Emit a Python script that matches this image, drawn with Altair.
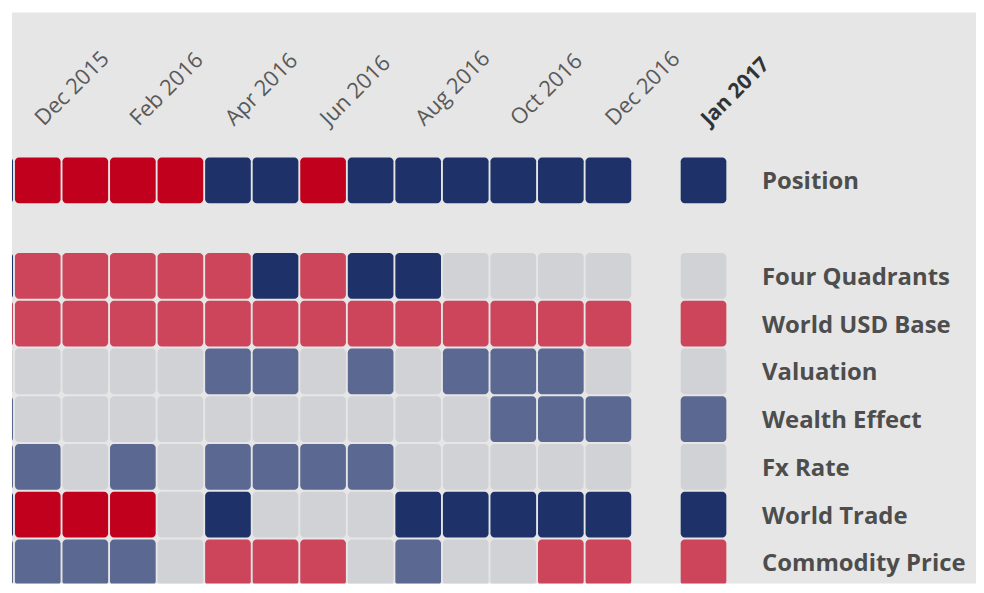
import altair as alt
import pandas as pd

# ---- data ------------------------------------------------------------------
hist_months = ["Oct 2015", "Nov 2015", "Dec 2015", "Jan 2016", "Feb 2016",
               "Mar 2016", "Apr 2016", "May 2016", "Jun 2016", "Jul 2016",
               "Aug 2016", "Sep 2016", "Oct 2016", "Nov 2016", "Dec 2016"]
current_month = "Jan 2017"

row_names = ["Position", "Four Quadrants", "World USD Base", "Valuation",
             "Wealth Effect", "Fx Rate", "World Trade", "Commodity Price"]

# codes: "--" strong negative, "-" negative, "0" neutral, "+" positive, "++" strong positive
position        = [None, "++", "--", "--", "--", "--", "++", "++", "--", "++", "++", "++", "++", "++", "++"]
four_quadrants  = [None, "++", "-", "-", "-", "-", "-", "++", "-", "++", "++", "0", "0", "0", "0"]
world_usd_base  = [None, "-", "-", "-", "-", "-", "-", "-", "-", "-", "-", "-", "-", "-", "-"]
valuation       = [None, "0", "0", "0", "0", "0", "+", "+", "0", "+", "0", "+", "+", "+", "0"]
wealth_effect   = [None, "+", "0", "0", "0", "0", "0", "0", "0", "0", "0", "0", "+", "+", "+"]
fx_rate         = [None, "+", "+", "0", "+", "0", "+", "+", "+", "+", "0", "0", "0", "0", "0"]
world_trade     = [None, "++", "--", "--", "--", "0", "++", "0", "0", "0", "++", "++", "++", "++", "++"]
commodity_price = [None, "+", "+", "+", "+", "0", "-", "-", "-", "0", "+", "0", "0", "-", "-"]

current_values = ["++", "0", "-", "0", "+", "0", "++", "-"]

codes = ["--", "-", "0", "+", "++"]
code_colors = ["#c0001d", "#cc455a", "#d1d2d6", "#5a6892", "#1e3269"]

# ---- build table ------------------------------------------------------------
series = [position, four_quadrants, world_usd_base, valuation,
          wealth_effect, fx_rate, world_trade, commodity_price]

FIRST_FULL = hist_months.index("Dec 2015")
cells = []
for r, (name, vals, cur) in enumerate(zip(row_names, series, current_values)):
    row_pos = r if r == 0 else r + 1          # blank row after "Position"
    for i, v in enumerate(vals):
        if v is None:
            continue
        col = i - FIRST_FULL
        cells.append({"row": name, "month": hist_months[i], "code": v,
                      "x": col + 0.02, "x2": col + 0.98,
                      "y": row_pos + 0.02, "y2": row_pos + 0.98})
    col = len(hist_months) - FIRST_FULL + 1   # one blank column before current
    cells.append({"row": name, "month": current_month, "code": cur,
                  "x": col + 0.02, "x2": col + 0.98,
                  "y": row_pos + 0.02, "y2": row_pos + 0.98})
cells_df = pd.DataFrame(cells)

LBL_DX = 0.625
LBL_Y = -0.62
col_labels = []
for i in range(0, len(hist_months), 2):
    col_labels.append({"label": hist_months[i], "x": i - FIRST_FULL + LBL_DX, "y": LBL_Y, "cur": False})
col_labels.append({"label": current_month,
                   "x": len(hist_months) - FIRST_FULL + 1 + LBL_DX, "y": LBL_Y, "cur": True})
col_df = pd.DataFrame(col_labels)

row_labels = []
for r, name in enumerate(row_names):
    row_pos = r if r == 0 else r + 1
    row_labels.append({"label": name, "x": 15.73, "y": row_pos + 0.5})
row_df = pd.DataFrame(row_labels)

# ---- scales -----------------------------------------------------------------
W, H = 969, 574
PX_COL, PX_ROW = 47.8, 48.0
x0 = -2 / PX_COL
y0 = -144.7 / PX_ROW
xscale = alt.Scale(domain=[x0, x0 + W / PX_COL], nice=False, zero=False)
yscale = alt.Scale(domain=[y0, y0 + H / PX_ROW], nice=False, zero=False, reverse=True)

rects = alt.Chart(cells_df).mark_rect(cornerRadius=4, clip=True).encode(
    x=alt.X("x:Q", scale=xscale, axis=None),
    x2="x2:Q",
    y=alt.Y("y:Q", scale=yscale, axis=None),
    y2="y2:Q",
    color=alt.Color("code:N", scale=alt.Scale(domain=codes, range=code_colors), legend=None),
)

month_text = alt.Chart(col_df[~col_df["cur"]]).mark_text(
    angle=315, align="left", baseline="alphabetic", font="Open Sans",
    fontSize=22, color="#595959", clip=True
).encode(x=alt.X("x:Q", scale=xscale), y=alt.Y("y:Q", scale=yscale), text="label:N")

cur_text = alt.Chart(col_df[col_df["cur"]]).mark_text(
    angle=315, align="left", baseline="alphabetic", font="Open Sans",
    fontSize=21, fontWeight="bold", color="#333333", clip=True
).encode(x=alt.X("x:Q", scale=xscale), y=alt.Y("y:Q", scale=yscale), text="label:N")

row_text = alt.Chart(row_df).mark_text(
    align="left", baseline="middle", font="Open Sans", fontSize=24,
    fontWeight="bold", color="#4d4d4d", dy=2
).encode(x=alt.X("x:Q", scale=xscale), y=alt.Y("y:Q", scale=yscale), text="label:N")

chart = alt.layer(rects, month_text, cur_text, row_text).properties(
    width=W, height=H,
    autosize=alt.AutoSizeParams(type="none"),
    padding={"left": 4, "top": 3, "right": 0, "bottom": 0},
    background="white",
).configure_view(fill="#e6e6e6", stroke=None)

chart.save("out.html", embed_options={"renderer": "svg", "actions": False})
